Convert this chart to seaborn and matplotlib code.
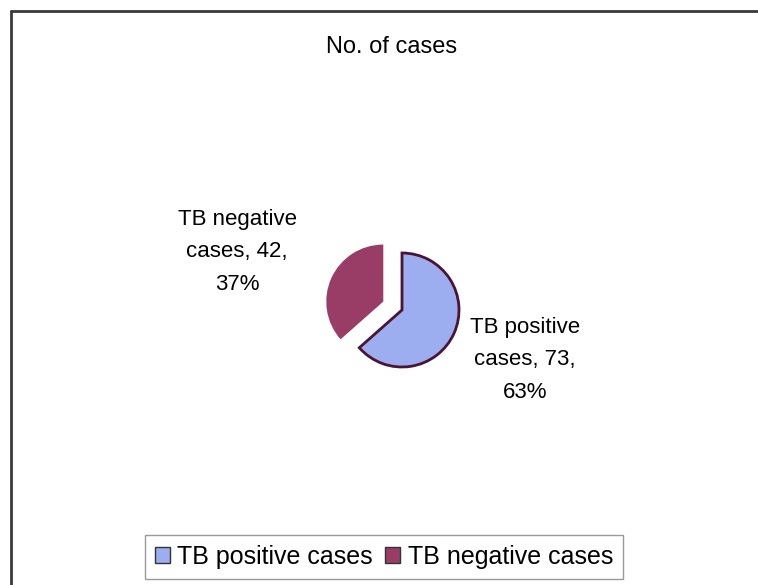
import matplotlib
matplotlib.use('Agg')
import matplotlib.pyplot as plt
import seaborn as sns
from matplotlib.lines import Line2D

# data
categories = ['TB negative cases', 'TB positive cases']
counts = [42, 73]
slice_colors = ['#993D66', '#9DAEF0']
title = 'No. of cases'

sns.set_theme(style='white')
plt.rcParams['font.family'] = ['Liberation Sans', 'DejaVu Sans']
plt.rcParams['text.color'] = 'black'

W, H = 758, 585
fig = plt.figure(figsize=(W / 100, H / 100), dpi=100)
fig.patch.set_facecolor('white')

# chart area border (left and top edges visible)
fig.add_artist(Line2D([11 / W, 11 / W], [0, 1 - 11 / H], transform=fig.transFigure,
                      color='#3a3a3a', lw=2))
fig.add_artist(Line2D([11 / W, 1], [1 - 11 / H, 1 - 11 / H], transform=fig.transFigure,
                      color='#3a3a3a', lw=2))

# pie axes, placed so the radius is ~57 px
r_px, cx, cy, span = 57, 402, 310, 150
ax = fig.add_axes([(cx - span) / W, (H - cy - span) / H, 2 * span / W, 2 * span / H])
wedges, _ = ax.pie(counts, colors=slice_colors, startangle=90, counterclock=True,
                   explode=[0.36, 0], radius=1, wedgeprops=dict(linewidth=0))
wedges[1].set_edgecolor('#4A1432')
wedges[1].set_linewidth(2)
lim = span / r_px
ax.set_xlim(-lim, lim)
ax.set_ylim(-lim, lim)
ax.axis('off')

# title
fig.text(392 / W, 1 - 47 / H, title, ha='center', va='center', fontsize=17,
         color='black')

# data labels
total = sum(counts)
label_pos = {'TB negative cases': (237, 252), 'TB positive cases': (525, 360)}
for cat, n in zip(categories, counts):
    head, tail = cat.rsplit(' ', 1)
    txt = f'{head}\n{tail}, {n},\n{round(n / total * 100)}%'
    x, y = label_pos[cat]
    fig.text(x / W, 1 - y / H, txt, ha='center', va='center', fontsize=16,
             linespacing=1.75, color='black')

# legend (positive first, as in the reference)
order = [1, 0]
leg = fig.legend([wedges[i] for i in order], [categories[i] for i in order],
                 loc='center', bbox_to_anchor=(384 / W, 1 - 557 / H), ncol=2,
                 fontsize=18, frameon=True, fancybox=False, handlelength=0.6,
                 handleheight=0.6, handletextpad=0.3, columnspacing=0.5,
                 borderpad=0.4, labelcolor='black')
leg.get_frame().set_edgecolor('#808080')
leg.get_frame().set_linewidth(1)
for h in leg.legend_handles:
    h.set_edgecolor('#333333')
    h.set_linewidth(1)

fig.savefig('out.png', dpi=100)
